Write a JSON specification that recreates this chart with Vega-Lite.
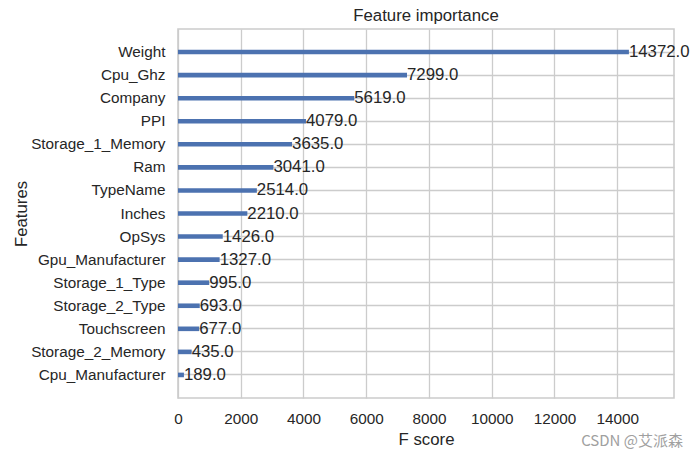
{
  "$schema": "https://vega.github.io/schema/vega-lite/v6.json",
  "autosize": {"type": "none"},
  "width": 496,
  "height": 369,
  "padding": {"left": 178, "top": 29, "right": 24, "bottom": 59},
  "background": "white",
  "config": {
    "font": "Liberation Sans",
    "view": {"stroke": "#cccccc", "strokeWidth": 1.6},
    "axis": {"labelColor": "#262626", "titleColor": "#262626", "labelFont": "Liberation Sans", "titleFont": "Liberation Sans", "titleFontWeight": "normal", "gridColor": "#cccccc", "gridWidth": 1.3, "domain": false, "ticks": false}
  },
  "title": {"text": "Feature importance", "fontSize": 16.8, "fontWeight": "normal", "color": "#262626", "font": "Liberation Sans", "offset": 4},
  "data": {"values": [
    {"feature": "Weight", "score": 14372},
    {"feature": "Cpu_Ghz", "score": 7299},
    {"feature": "Company", "score": 5619},
    {"feature": "PPI", "score": 4079},
    {"feature": "Storage_1_Memory", "score": 3635},
    {"feature": "Ram", "score": 3041},
    {"feature": "TypeName", "score": 2514},
    {"feature": "Inches", "score": 2210},
    {"feature": "OpSys", "score": 1426},
    {"feature": "Gpu_Manufacturer", "score": 1327},
    {"feature": "Storage_1_Type", "score": 995},
    {"feature": "Storage_2_Type", "score": 693},
    {"feature": "Touchscreen", "score": 677},
    {"feature": "Storage_2_Memory", "score": 435},
    {"feature": "Cpu_Manufacturer", "score": 189}
  ]},
  "layer": [
    {"mark": {"type": "bar", "color": "#4c72b0"},
     "encoding": {
      "y": {"field": "feature", "type": "nominal", "sort": null,
        "scale": {"paddingInner": 0.8, "paddingOuter": 0.9},
        "axis": {"title": "Features", "labelFontSize": 15.3, "titleFontSize": 16.8, "labelPadding": 13, "titlePadding": 0, "bandPosition": 0.5, "grid": true}},
      "x": {"field": "score", "type": "quantitative",
        "scale": {"domain": [0, 15809.2], "nice": false, "zero": true},
        "axis": {"title": "F score", "format": "d", "values": [0, 2000, 4000, 6000, 8000, 10000, 12000, 14000], "labelFontSize": 15.3, "titleFontSize": 16.8, "labelPadding": 13, "titlePadding": 5, "grid": true, "labelFlush": false}}
     }},
    {"mark": {"type": "text", "align": "left", "baseline": "middle", "dx": 0, "fontSize": 16.8, "color": "#262626", "font": "Liberation Sans"},
     "encoding": {
      "y": {"field": "feature", "type": "nominal", "sort": null},
      "x": {"field": "score", "type": "quantitative"},
      "text": {"field": "score", "type": "quantitative", "format": ".1f"}}},
    {"data": {"values": [{"label": "CSDN @艾派森"}]},
     "mark": {"type": "text", "align": "right", "baseline": "middle", "fontSize": 15, "color": "#a0a0a0", "font": "Noto Sans CJK SC", "dy": 43, "dx": 9},
     "encoding": {"text": {"field": "label", "type": "nominal"}, "x": {"datum": 15809.2}, "y": {"value": 369}}}
  ]
}
